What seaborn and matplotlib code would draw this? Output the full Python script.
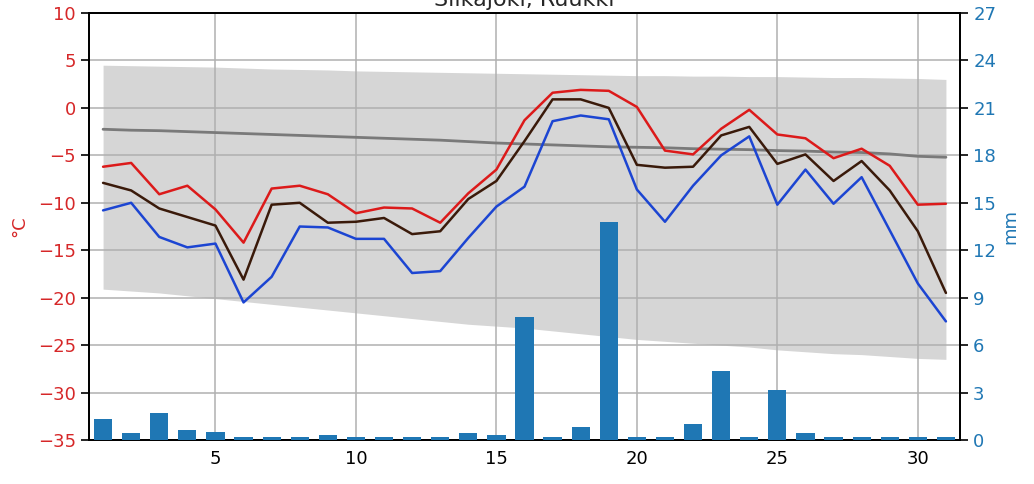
import numpy as np
import pandas as pd
import matplotlib
matplotlib.use("Agg")
import matplotlib.pyplot as plt
import seaborn as sns

title = "Siikajoki, Ruukki"
days = list(range(1, 32))
t_max = [-6.2, -5.8, -9.1, -8.2, -10.7, -14.2, -8.5, -8.2, -9.1, -11.1, -10.5, -10.6, -12.1, -9.0, -6.5,
         -1.3, 1.6, 1.9, 1.8, 0.1, -4.5, -4.9, -2.2, -0.2, -2.8, -3.2, -5.3, -4.3, -6.1, -10.2, -10.1]
t_mean = [-7.9, -8.7, -10.6, -11.5, -12.4, -18.1, -10.2, -10.0, -12.1, -12.0, -11.6, -13.3, -13.0, -9.6, -7.7,
          -3.5, 0.9, 0.9, 0.0, -6.0, -6.3, -6.2, -2.9, -2.0, -5.9, -4.9, -7.7, -5.6, -8.7, -13.0, -19.5]
t_min = [-10.8, -10.0, -13.6, -14.7, -14.3, -20.5, -17.8, -12.5, -12.6, -13.8, -13.8, -17.4, -17.2, -13.7, -10.4,
         -8.3, -1.4, -0.8, -1.2, -8.6, -12.0, -8.2, -5.0, -3.0, -10.2, -6.5, -10.1, -7.3, -12.9, -18.5, -22.5]
t_normal = [-2.25, -2.35, -2.4, -2.5, -2.6, -2.7, -2.8, -2.9, -3.0, -3.1, -3.2, -3.3, -3.4, -3.55, -3.7,
            -3.8, -3.9, -4.0, -4.1, -4.15, -4.2, -4.3, -4.35, -4.4, -4.5, -4.55, -4.65, -4.7, -4.85, -5.1, -5.2]
band_high = [4.5, 4.45, 4.4, 4.35, 4.3, 4.2, 4.1, 4.05, 4.0, 3.9, 3.85, 3.8, 3.75, 3.7, 3.65,
             3.6, 3.55, 3.5, 3.45, 3.4, 3.4, 3.35, 3.35, 3.3, 3.3, 3.25, 3.2, 3.2, 3.15, 3.1, 3.0]
band_low = [-19.1, -19.3, -19.5, -19.8, -20.1, -20.4, -20.7, -21.0, -21.3, -21.6, -21.9, -22.2, -22.5, -22.8, -23.0,
            -23.2, -23.5, -23.8, -24.1, -24.4, -24.6, -24.8, -25.0, -25.2, -25.5, -25.7, -25.9, -26.0, -26.2, -26.4, -26.5]
precip = [1.35, 0.42, 1.7, 0.63, 0.53, 0.18, 0.18, 0.18, 0.3, 0.18, 0.18, 0.18, 0.18, 0.42, 0.32,
          7.76, 0.18, 0.82, 13.8, 0.18, 0.18, 1.0, 4.34, 0.18, 3.14, 0.42, 0.18, 0.18, 0.18, 0.18, 0.18]
temp_ticks = [10, 5, 0, -5, -10, -15, -20, -25, -30, -35]
mm_ticks = [0, 3, 6, 9, 12, 15, 18, 21, 24, 27]
x_ticks = [5, 10, 15, 20, 25, 30]

sns.set_theme(style="ticks")
plt.rcParams['font.family'] = ['DejaVu Sans']

df = pd.DataFrame({"day": days, "tmax": t_max, "tmean": t_mean, "tmin": t_min,
                   "tnorm": t_normal, "hi": band_high, "lo": band_low, "mm": precip})

fig = plt.figure(figsize=(10.34, 4.84), dpi=100)
ax = fig.add_axes([0.0861, 0.0909, 0.8423, 0.8822])

ax.fill_between(df["day"], df["lo"], df["hi"], color="#d6d6d6", lw=0, zorder=1)
sns.lineplot(data=df, x="day", y="tnorm", ax=ax, color="#7a7a7a", lw=2.0, zorder=3)
sns.lineplot(data=df, x="day", y="tmax", ax=ax, color="#dc1a1a", lw=1.8, zorder=4)
sns.lineplot(data=df, x="day", y="tmean", ax=ax, color="#3a1a0a", lw=1.8, zorder=4)
sns.lineplot(data=df, x="day", y="tmin", ax=ax, color="#1c45d2", lw=1.8, zorder=4)

ax.set_axisbelow('line')
ax.grid(True, color="#b0b0b0", lw=1.1)
ax.set_xlim(0.5, 31.5)
ax.set_ylim(-35, 10)
ax.set_yticks(temp_ticks)
ax.set_xticks(x_ticks)
ax.set_xlabel("")
ax.set_ylabel("°C", color="#d62728", fontsize=13, labelpad=7)
ax.tick_params(axis='y', colors="black", labelcolor="#d62728", labelsize=13, length=6, width=1.2)
ax.tick_params(axis='x', labelsize=13, length=0, pad=7, labelcolor="black")
ax.set_title(title, fontsize=16, pad=5)
for s in ax.spines.values():
    s.set_color("black")
    s.set_linewidth(1.3)

ax2 = ax.twinx()
ax2.bar(df["day"], df["mm"], width=0.65, color="#1f77b4", edgecolor="none", linewidth=0, zorder=3)
ax2.set_ylim(0, 27)
ax2.set_yticks(mm_ticks)
ax2.set_ylabel("mm", color="#1f77b4", fontsize=13, labelpad=4)
ax2.tick_params(axis='y', colors="black", labelcolor="#1f77b4", labelsize=13, length=6, width=1.2)
ax2.grid(False)
for s in ax2.spines.values():
    s.set_color("black")
    s.set_linewidth(1.3)

fig.savefig("out.png", dpi=100)
